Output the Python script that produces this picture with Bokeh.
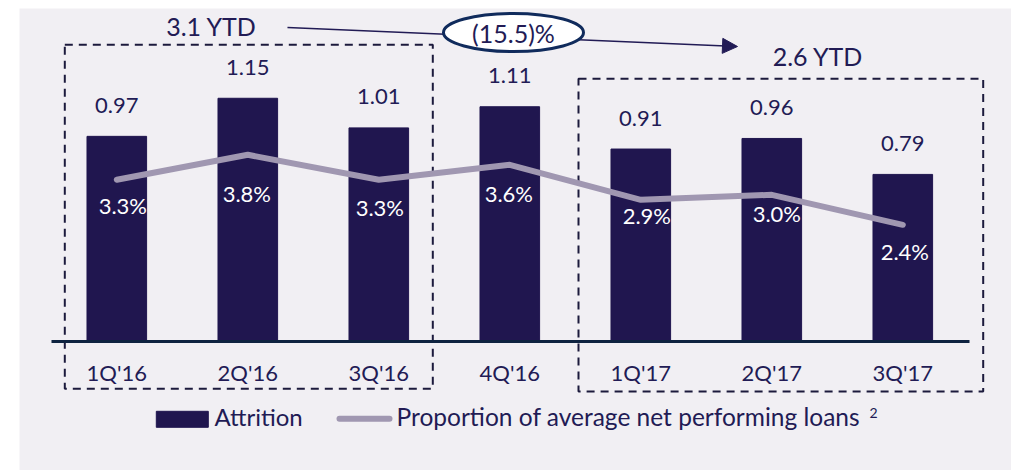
from bokeh.plotting import figure
from bokeh.models import Range1d, Arrow, NormalHead, Spacer
from bokeh.layouts import row, column
from bokeh.embed import file_html
from bokeh.resources import INLINE
from bokeh.core.properties import value

# ---------------- data ----------------
categories = ["1Q'16", "2Q'16", "3Q'16", "4Q'16", "1Q'17", "2Q'17", "3Q'17"]
attrition = [0.97, 1.15, 1.01, 1.11, 0.91, 0.96, 0.79]
proportion = [3.3, 3.8, 3.3, 3.6, 2.9, 3.0, 2.4]
attrition_labels = ["0.97", "1.15", "1.01", "1.11", "0.91", "0.96", "0.79"]
proportion_labels = ["3.3%", "3.8%", "3.3%", "3.6%", "2.9%", "3.0%", "2.4%"]
ytd_labels = ["3.1 YTD", "2.6 YTD"]
change_label = ["(15.5)%"]
legend_labels = ["Attrition", "Proportion of average net performing loans"]
legend_note = ["2"]

# ---------------- styles ----------------
BG = "#f1eff3"
BAR = "#20164f"
NAVY = "#221b55"
LINE = "#a097b1"
AXIS = "#0e2340"
ELLIPSE = "#102b5c"
DASH = "#1c1a3c"
FONT = value("Lato")

# per-label offsets (screen px) for the percentage labels
pct_dx = [6, -1, 1, -1, 6, 5, 2]
pct_dy = [26, 39, 28, 29, 16, 19, 27]

# ---------------- layout (page pixels) ----------------
FIG_LEFT, FIG_TOP = 19, 8
FIG_W, FIG_H = 992, 462
X0_PX, DX_PX = 116.3, 131.0      # centre of first category, spacing
Y0_PX, DY_PX = 341.0, 211.5      # baseline, px per attrition unit
P_REF, P_REF_PX, DP_PX = 3.3, 179.3, 50.0


def dx(px):
    return (px - X0_PX) / DX_PX


def dy(py):
    return (Y0_PX - py) / DY_PX


def dp(py):
    return P_REF + (P_REF_PX - py) / DP_PX


idx = list(range(len(categories)))

p = figure(
    width=FIG_W, height=FIG_H,
    x_range=Range1d(dx(FIG_LEFT), dx(FIG_LEFT + FIG_W)),
    y_range=Range1d(dy(FIG_TOP + FIG_H), dy(FIG_TOP)),
    x_axis_type=None, y_axis_type=None,
    output_backend="svg", toolbar_location=None, title=None,
    min_border=0, min_border_left=0, min_border_right=0,
    min_border_top=0, min_border_bottom=0,
    background_fill_color=BG, border_fill_color=BG,
    outline_line_color=None,
)
p.extra_y_ranges = {"pct": Range1d(dp(FIG_TOP + FIG_H), dp(FIG_TOP))}
p.grid.visible = False

# dashed group boxes
p.quad(left=[dx(64.3), dx(578)], right=[dx(432.3), dx(982.7)],
       top=[dy(44.3), dy(78.3)], bottom=[dy(388.3), dy(391)],
       fill_alpha=0, line_color=DASH, line_width=2, line_dash="8 6")

# bars
p.vbar(x=idx, top=attrition, width=0.455, fill_color=BAR, line_color=BAR)

# baseline
p.segment(x0=[dx(51)], y0=[0], x1=[dx(969)], y1=[0], line_color=AXIS, line_width=3)

# proportion line
p.line(idx, proportion, y_range_name="pct", line_color=LINE, line_width=6,
       line_cap="round", line_join="round")

# value labels above bars
p.text(x=idx, y=attrition, text=attrition_labels, y_offset=-31,
       text_align="center", text_baseline="middle", text_font=FONT,
       text_font_size="22px", text_color=NAVY)

# percentage labels
p.text(x=idx, y=proportion, text=proportion_labels, y_range_name="pct",
       x_offset=pct_dx, y_offset=pct_dy,
       text_align="center", text_baseline="middle", text_font=FONT,
       text_font_size="22px", text_color="white")

# category labels
p.text(x=idx, y=[0] * len(idx), text=categories, y_offset=31,
       text_align="center", text_baseline="middle", text_font=FONT,
       text_font_size="22px", text_color=NAVY)

# YTD annotation arrow (behind the ellipse)
arrow = Arrow(end=NormalHead(size=15, fill_color=NAVY, line_color=NAVY),
              x_start=dx(287), y_start=dy(27), x_end=dx(737), y_end=dy(46),
              line_color=NAVY, line_width=1.5, level="underlay")
p.add_layout(arrow)

p.ellipse(x=[dx(513)], y=[dy(32)], width=140, height=38,
          width_units="screen", height_units="screen",
          fill_color="white", line_color=ELLIPSE, line_width=3)

p.text(x=[dx(513)], y=[dy(32)], text=change_label,
       text_align="center", text_baseline="middle", text_font=FONT,
       text_font_size="25px", text_color=NAVY)

p.text(x=[dx(211), dx(817.5)], y=[dy(25.3), dy(55)], text=ytd_labels,
       text_align="center", text_baseline="middle", text_font=FONT,
       text_font_size="25px", text_color=NAVY)

# legend (drawn manually)
p.rect(x=[dx(181.8)], y=[dy(418.8)], width=52, height=16,
       width_units="screen", height_units="screen",
       fill_color=BAR, line_color=BAR)
p.segment(x0=[dx(339)], y0=[dy(418.3)], x1=[dx(389)], y1=[dy(418.3)],
          line_color=LINE, line_width=6, line_cap="round")
p.text(x=[dx(214)], y=[dy(416)], text=legend_labels[:1],
       text_align="left", text_baseline="middle", text_font=FONT,
       text_font_size="24px", text_color=NAVY)
p.text(x=[dx(396)], y=[dy(416)], text=legend_labels[1:],
       text_align="left", text_baseline="middle", text_font=FONT,
       text_font_size="24.5px", text_color=NAVY)
p.text(x=[dx(873)], y=[dy(412)], text=legend_note,
       text_align="center", text_baseline="middle", text_font=FONT,
       text_font_size="14px", text_color=NAVY)

layout = column(Spacer(width=FIG_LEFT + FIG_W, height=FIG_TOP),
                row(Spacer(width=FIG_LEFT, height=FIG_H), p))

open("out.html", "w").write(file_html(layout, INLINE))
